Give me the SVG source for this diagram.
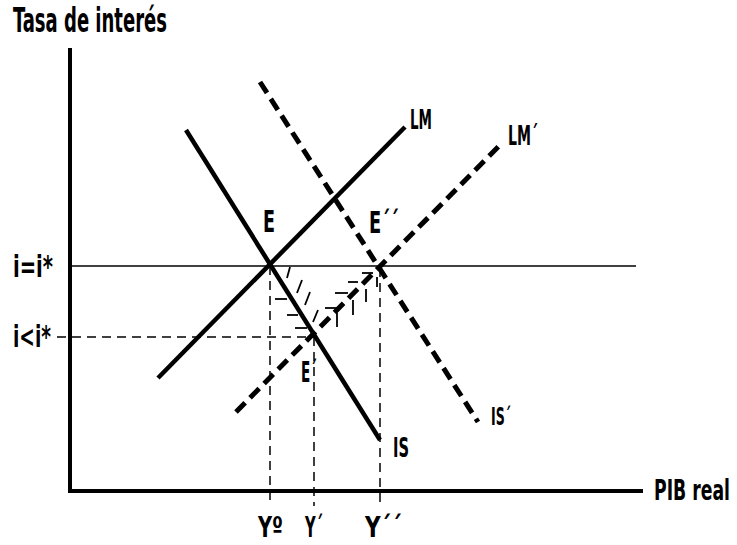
<svg xmlns="http://www.w3.org/2000/svg" width="737" height="545" viewBox="0 0 737 545">
<style>
.t{font-family:"DejaVu Sans Condensed","Liberation Sans",sans-serif;font-weight:bold;fill:#000}
.axis{stroke:#000;stroke-width:4;fill:none}
.thin{stroke:#000;stroke-width:1.5;fill:none}
.dash{stroke:#000;stroke-width:1.5;stroke-dasharray:9 6;fill:none}
.curve{stroke:#000;stroke-width:4.5;fill:none;stroke-linecap:butt}
.curved{stroke:#000;stroke-width:5;stroke-dasharray:13 7;fill:none}
.hatch{stroke:#000;stroke-width:1.8;fill:none}
</style>
<rect width="737" height="545" fill="#fff"/>
<g id="axes">
<line class="axis" x1="70" y1="48" x2="70" y2="493"/>
<line class="axis" x1="68" y1="491" x2="643" y2="491"/>
<text class="t" x="13" y="32" font-size="33" textLength="154" lengthAdjust="spacingAndGlyphs">Tasa de interés</text>
<text class="t" transform="translate(654,500) scale(0.7,1)" x="0" y="0" font-size="28" textLength="108.5" lengthAdjust="spacingAndGlyphs">PIB real</text>
</g>
<g id="connectors">
<line class="thin" x1="70" y1="266" x2="636" y2="266"/>
<line class="dash" x1="57" y1="337" x2="313" y2="337"/>
<line class="dash" x1="270" y1="266" x2="270" y2="506"/>
<line class="dash" x1="314" y1="337" x2="314" y2="506"/>
<line class="dash" x1="380" y1="268" x2="380" y2="506"/>
<g id="hatch-is">
<line class="hatch" x1="275" y1="299" x2="287" y2="299"/>
<line class="hatch" x1="287" y1="315" x2="298" y2="315"/>
<line class="hatch" x1="295" y1="328" x2="307" y2="328"/>
<line class="hatch" x1="290" y1="267" x2="287" y2="278"/>
<line class="hatch" x1="302" y1="280" x2="297" y2="293"/>
<line class="hatch" x1="310" y1="292" x2="305" y2="305"/>
<line class="hatch" x1="318" y1="310" x2="313" y2="322"/>
</g>
<g id="hatch-lm2">
<line class="hatch" x1="325" y1="308" x2="337" y2="308"/>
<line class="hatch" x1="335" y1="293" x2="348" y2="293"/>
<line class="hatch" x1="348" y1="282" x2="358" y2="282"/>
<line class="hatch" x1="362" y1="273" x2="373" y2="273"/>
<line class="hatch" x1="337" y1="313" x2="337" y2="327"/>
<line class="hatch" x1="353" y1="300" x2="353" y2="315"/>
<line class="hatch" x1="366" y1="289" x2="366" y2="302"/>
<line class="hatch" x1="377" y1="277" x2="377" y2="287"/>
</g>
</g>
<g id="LM">
<line class="curve" x1="158" y1="378" x2="405" y2="127"/>
<text class="t" x="410" y="129" font-size="27" textLength="22" lengthAdjust="spacingAndGlyphs">LM</text>
</g>
<g id="LM2">
<line class="curved" x1="236" y1="412" x2="500" y2="145"/>
<text class="t" x="508" y="145" font-size="27" textLength="30" lengthAdjust="spacingAndGlyphs">LM´</text>
</g>
<g id="IS">
<line class="curve" x1="186" y1="130" x2="380" y2="440"/>
<text class="t" x="393" y="457" font-size="26" textLength="16" lengthAdjust="spacingAndGlyphs">IS</text>
</g>
<g id="IS2">
<line class="curved" x1="260" y1="82" x2="478" y2="422"/>
<text class="t" x="491" y="425" font-size="25" textLength="20" lengthAdjust="spacingAndGlyphs">IS´</text>
</g>
<g id="points">
<text class="t" x="263" y="232" font-size="31" textLength="12" lengthAdjust="spacingAndGlyphs">E</text>
<text class="t" x="369" y="233" font-size="31" textLength="30" lengthAdjust="spacingAndGlyphs">E´´</text>
<text class="t" x="301" y="382" font-size="29" textLength="16" lengthAdjust="spacingAndGlyphs">E´</text>
<text class="t" x="13" y="277" font-size="30" textLength="40" lengthAdjust="spacingAndGlyphs">i=i*</text>
<text class="t" x="13" y="347" font-size="30" textLength="38" lengthAdjust="spacingAndGlyphs">i&lt;i*</text>
<text class="t" x="258" y="537" font-size="28" textLength="25" lengthAdjust="spacingAndGlyphs">Yº</text>
<text class="t" x="305" y="537" font-size="28" textLength="18" lengthAdjust="spacingAndGlyphs">Y´</text>
<text class="t" x="365" y="537" font-size="28" textLength="37" lengthAdjust="spacingAndGlyphs">Y´´</text>
</g>
</svg>
